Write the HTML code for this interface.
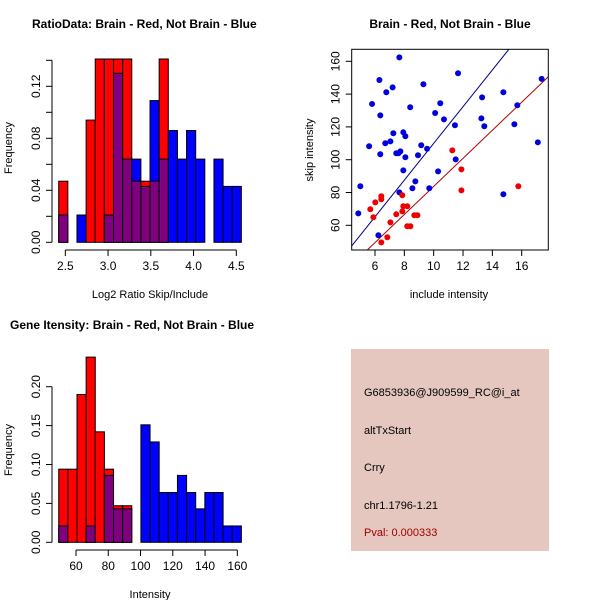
<!DOCTYPE html>
<html><head><meta charset="utf-8"><style>
body{margin:0;background:#fff}
svg{display:block;font-family:"Liberation Sans",sans-serif}
</style></head><body>
<svg id="c" width="600" height="600" xmlns="http://www.w3.org/2000/svg">
<rect x="351" y="349" width="198" height="202" fill="#e5c7c0"/>
<g font-size="11" fill="#000">
<text x="364" y="396">G6853936@J909599_RC@i_at</text>
<text x="364" y="434">altTxStart</text>
<text x="364" y="471">Crry</text>
<text x="364" y="509">chr1.1796-1.21</text>
<text x="364" y="536" fill="#a00000">Pval: 0.000333</text>
</g>
</svg>
<script>
// ---- Histogram 1 data ----
const ratioRed=[0.047,0,0,0.094,0.141,0.141,0.141,0.141,0.047,0.047,0.047,0.141,0,0,0,0,0,0,0,0];
const ratioBlue=[0.021,0,0.021,0,0,0.021,0.13,0.064,0.064,0.043,0.109,0.064,0.086,0.064,0.086,0.064,0,0.064,0.043,0.043];
const ratioBinStart=2.423, ratioBinWidth=0.1068;
const ratioXTicks=[2.5,3.0,3.5,4.0,4.5];
const ratioYTicks=[0,0.02,0.04,0.06,0.08,0.10,0.12,0.14];
// ---- Histogram 2 data ----
const intRed=[0.094,0.094,0.19,0.238,0.142,0.094,0.047,0.047,0,0,0,0,0,0,0,0,0,0,0,0];
const intBlue=[0.021,0,0,0.021,0,0.086,0.043,0.043,0,0.151,0.129,0.064,0.064,0.086,0.064,0.043,0.064,0.064,0.021,0.021];
const intBinStart=49.3, intBinWidth=5.66;
const intXTicks=[60,80,100,120,140,160];
const intYTicks=[0,0.05,0.10,0.15,0.20];
// ---- Scatter data ----
const blueX=[7.66,11.66,6.3,17.36,9.3,7.2,6.77,14.75,13.3,5.8,10.45,8.4,15.7,10.1,6.36,10.7,13.25,15.5,11.45,13.45,7.25,7.93,8.07,7.05,6.7,17.1,5.6,9.15,9.55,7.73,7.45,7.6,6.36,8.93,8.07,11.5,7.93,10.3,8.75,5.0,8.55,9.7,7.66,14.75,4.86,6.23];
const blueY=[162.4,152.7,148.6,149.3,146,144.1,141.1,141.1,138,134,134.4,132,133.2,128.5,127,124.6,125.2,121.6,121,120.4,116.1,116.7,114.3,111.2,110,110.6,108.2,108.8,106.7,105.1,103.9,103.9,103.3,102.7,101.5,100.2,93.5,92.9,86.8,83.8,82.6,82.6,80.1,78.9,67.3,53.9];
const redX=[11.27,11.89,11.89,15.77,7.86,6.43,6.43,6.02,7.93,8.2,5.68,7.86,7.45,8.68,8.89,5.89,7.05,8.2,8.41,6.84,6.43];
const redY=[105.7,94.1,81.3,83.8,78.3,77.7,75.9,74,71.6,71.6,69.8,68.5,66.7,66.1,66.1,64.9,61.8,59.4,59.4,52.7,49.6];
const blueLine=[-1.95,11.19]; // intercept, slope
const redLine=[-1.9,8.56];
const scXTicks=[6,8,10,12,14,16];
const scYTicks=[60,80,100,120,140,160];

const NS="http://www.w3.org/2000/svg";
const svg=document.getElementById('c');
function mk(tag,attrs,parent,txt){const e=document.createElementNS(NS,tag);for(const k in attrs)e.setAttribute(k,attrs[k]);if(txt!==undefined)e.textContent=txt;(parent||svg).appendChild(e);return e;}

function hist(o){
  const g=mk('g',{});
  
  
  const sx=v=>o.x0+(v-o.xv0)*o.xs, sy=v=>o.y0-v*o.ys;
  for(let i=0;i<o.red.length;i++){
    const a=o.binStart+i*o.binW, b=a+o.binW, r=o.red[i], bl=o.blue[i];
    const bars=[];
    if(r>=bl){bars.push([r,'#ff0000','red']);}else{bars.push([bl,'#0000ff','blue']);}
    const m=Math.min(r,bl);
    if(m>0)bars.push([m,'#800080','overlap']);
    for(const [v,c,n] of bars){ if(v<=0)continue;
      const e=mk('rect',{x:sx(a),y:sy(v),width:sx(b)-sx(a),height:sy(0)-sy(v),fill:c,stroke:'#000','stroke-width':1},g);
      
      
    }
  }
  // x axis
  const ax=mk('g',{stroke:'#000','stroke-width':1},g);
  
  
  const xt=o.xticks, ya=o.xAxisY;
  mk('line',{x1:sx(xt[0]),x2:sx(xt[xt.length-1]),y1:ya,y2:ya},ax);
  xt.forEach(t=>{mk('line',{x1:sx(t),x2:sx(t),y1:ya,y2:ya+6},ax);
    const l=mk('text',{x:sx(t),y:ya+20,'text-anchor':'middle','font-size':12,stroke:'none'},g,o.xfmt(t));
    
    });
  // y axis
  const ay=mk('g',{stroke:'#000','stroke-width':1},g);
  
  
  const yt=o.yticks, xa=o.yAxisX;
  mk('line',{x1:xa,x2:xa,y1:sy(yt[0]),y2:sy(yt[yt.length-1])},ay);
  yt.forEach((t,i)=>{mk('line',{x1:xa,x2:xa-6,y1:sy(t),y2:sy(t)},ay);
    if(o.labelEvery(i)){const l=mk('text',{x:xa-12,y:sy(t),'text-anchor':'middle','font-size':12,transform:`rotate(-90 ${xa-12} ${sy(t)})`},g,t.toFixed(2));
    
    }});
  const tt=mk('text',{x:o.titleX,y:o.titleY,'font-size':12,'font-weight':'bold'},g,o.title);
  
  
  const xl=mk('text',{x:o.xlabX,y:o.xlabY,'text-anchor':'middle','font-size':11},g,o.xlab);
  
  
  const yl=mk('text',{x:12,y:o.ylabY,'text-anchor':'middle','font-size':11,transform:`rotate(-90 12 ${o.ylabY})`},g,'Frequency');
  
  
}
hist({name:'ratio-histogram',red:ratioRed,blue:ratioBlue,binStart:ratioBinStart,binW:ratioBinWidth,
  x0:65.3,xv0:2.5,xs:85.5,y0:242.3,ys:1300,xticks:ratioXTicks,yticks:ratioYTicks,xAxisY:250,yAxisX:52,
  xfmt:t=>t.toFixed(1),labelEvery:i=>i%2==0&&i<7,title:'RatioData: Brain - Red, Not Brain - Blue',titleX:32,titleY:28,
  xlab:'Log2 Ratio Skip/Include',xlabX:150,xlabY:298,ylabY:148});
hist({name:'intensity-histogram',red:intRed,blue:intBlue,binStart:intBinStart,binW:intBinWidth,
  x0:76,xv0:60,xs:1.6133,y0:542.3,ys:778,xticks:intXTicks,yticks:intYTicks,xAxisY:550,yAxisX:52,
  xfmt:t=>String(t),labelEvery:i=>true,title:'Gene Itensity: Brain - Red, Not Brain - Blue',titleX:10,titleY:329,
  xlab:'Intensity',xlabX:150,xlabY:598,ylabY:450});

// scatter
(function(){
  const g=mk('g',{});
  
  
  const L=351.7,R=548.3,T=49.3,B=250;
  const sx=v=>375+(v-6)*14.67, sy=v=>225.3-(v-60)*1.64;
  mk('clipPath',{id:'sc'},g).appendChild(Object.assign(document.createElementNS(NS,'rect'),{}));
  const cr=g.querySelector('#sc rect');cr.setAttribute('x',L);cr.setAttribute('y',T);cr.setAttribute('width',R-L);cr.setAttribute('height',B-T);
  const pts=mk('g',{'clip-path':'url(#sc)'},g);
  function line(p,c,n){const x1=3,x2=19;const e=mk('line',{x1:sx(x1),x2:sx(x2),y1:sy(p[0]+p[1]*x1),y2:sy(p[0]+p[1]*x2),stroke:c,'stroke-width':1},pts);
    
    }
  line(blueLine,'#00008b','blue-fit-line');
  line(redLine,'#b00000','red-fit-line');
  blueX.forEach((x,i)=>{const e=mk('circle',{cx:sx(x),cy:sy(blueY[i]),r:3,fill:'#0000dd'},pts);
    
    });
  redX.forEach((x,i)=>{const e=mk('circle',{cx:sx(x),cy:sy(redY[i]),r:3,fill:'#ee0000'},pts);
    
    });
  const box=mk('rect',{x:L,y:T,width:R-L,height:B-T,fill:'none',stroke:'#000'},g);
  
  
  scXTicks.forEach(t=>{mk('line',{x1:sx(t),x2:sx(t),y1:B,y2:B+6,stroke:'#000'},g);
    const l=mk('text',{x:sx(t),y:B+20,'text-anchor':'middle','font-size':12},g,String(t));
    
    });
  scYTicks.forEach(t=>{mk('line',{x1:L,x2:L-6,y1:sy(t),y2:sy(t),stroke:'#000'},g);
    const l=mk('text',{x:L-12,y:sy(t),'text-anchor':'middle','font-size':12,transform:`rotate(-90 ${L-12} ${sy(t)})`},g,String(t));
    
    });
  const tt=mk('text',{x:450,y:28,'text-anchor':'middle','font-size':12,'font-weight':'bold'},g,'Brain - Red, Not Brain - Blue');
  
  
  const xl=mk('text',{x:449,y:298,'text-anchor':'middle','font-size':11},g,'include intensity');
  
  
  const yl=mk('text',{x:313,y:150,'text-anchor':'middle','font-size':11,transform:'rotate(-90 313 150)'},g,'skip intensity');
  
  
})();
</script>
</body></html>
